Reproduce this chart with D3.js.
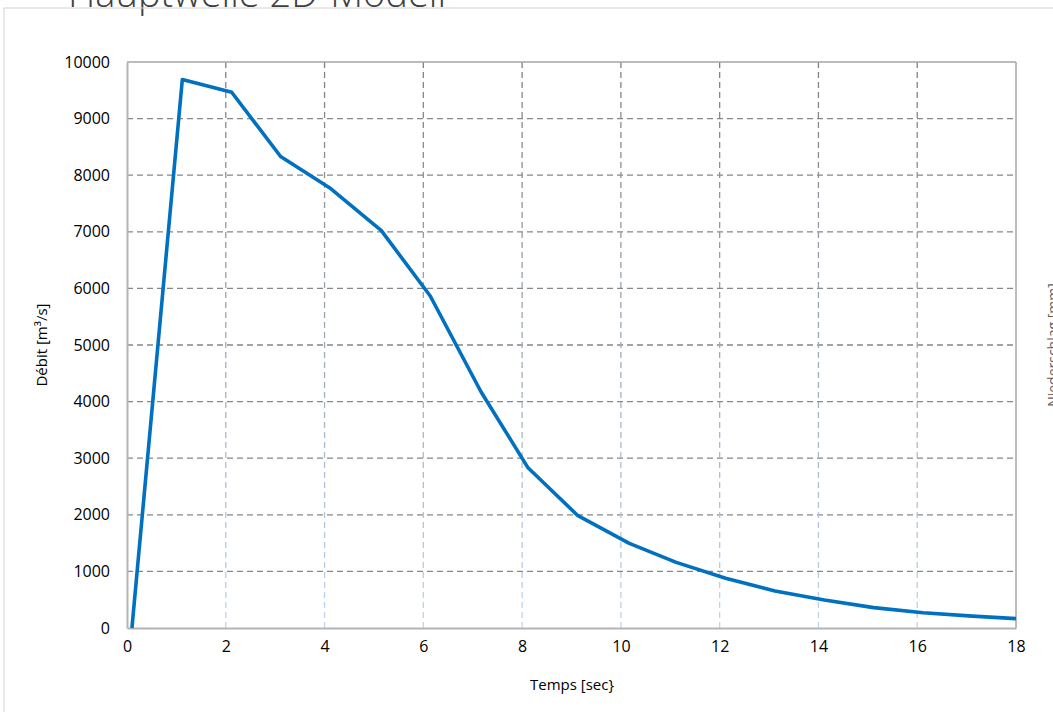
<!DOCTYPE html>
<html>
<head>
<meta charset="utf-8">
<script src="https://cdn.jsdelivr.net/npm/d3@7"></script>
<style>
  body { margin: 0; background: #fff; }
  svg text { font-family: "Open Sans", sans-serif; fill: #000; }
</style>
</head>
<body>
<svg id="chart" width="1053" height="712"></svg>
<script>
// hydrograph values
var temps = [0.1, 1.12, 2.12, 3.11, 4.1, 5.15, 6.14, 7.17, 8.12, 9.13, 10.17, 11.12, 12.12, 13.12, 14.12, 15.12, 16.12, 17.12, 18];
var debit = [0, 9690, 9465, 8330, 7780, 7020, 5866, 4170, 2830, 1984, 1496, 1160, 880, 655, 495, 360, 270, 210, 165];
var xTicks = [0, 2, 4, 6, 8, 10, 12, 14, 16, 18];
var yTicks = [0, 1000, 2000, 3000, 4000, 5000, 6000, 7000, 8000, 9000, 10000];

var svg = d3.select("#chart");
var pLeft = 127, pRight = 1016, pTop = 62, pBottom = 628;

var x = d3.scaleLinear().domain([0, 18]).range([pLeft, pRight]);
var y = d3.scaleLinear().domain([0, 10000]).range([pBottom, pTop]);

// gradient for the vertical grid (grey at top, pale blue at bottom)
var defs = svg.append("defs");
var grad = defs.append("linearGradient").attr("id", "vgrid")
    .attr("gradientUnits", "userSpaceOnUse")
    .attr("x1", 0).attr("y1", pTop).attr("x2", 0).attr("y2", pBottom);
grad.append("stop").attr("offset", "0%").attr("stop-color", "#808080");
grad.append("stop").attr("offset", "45%").attr("stop-color", "#9aa6b4");
grad.append("stop").attr("offset", "100%").attr("stop-color", "#bcd6f0");

// title of the sheet, only its lower edge shows above the frame
svg.append("text").attr("x", 68).attr("y", 7)
   .style("font-size", "38px").style("font-weight", "300").style("fill", "#404040")
   .text("Hauptwelle 2D-Modell");

// outer frame
svg.append("rect").attr("x", 4).attr("y", 8).attr("width", 1100).attr("height", 760)
   .attr("fill", "none").attr("stroke", "#d4d4d4").attr("stroke-width", 1);

// vertical text on the right edge, mostly off the page
svg.append("text").attr("transform", "translate(1058,345) rotate(-90)")
   .attr("text-anchor", "middle").style("font-size", "14px").style("fill", "#606060")
   .text("Niederschlag [mm]");

// horizontal grid
svg.append("g").selectAll("line").data(yTicks.filter(function(d) { return d > 0 && d < 10000; }))
   .enter().append("line")
   .attr("x1", pLeft).attr("x2", pRight)
   .attr("y1", function(d) { return y(d); }).attr("y2", function(d) { return y(d); })
   .attr("stroke", "#878787").attr("stroke-width", 1.3).attr("stroke-dasharray", "6,4");

// vertical grid
svg.append("g").selectAll("line").data(xTicks.filter(function(d) { return d > 0 && d < 18; }))
   .enter().append("line")
   .attr("x1", function(d) { return x(d); }).attr("x2", function(d) { return x(d); })
   .attr("y1", pTop).attr("y2", pBottom)
   .attr("stroke", "url(#vgrid)").attr("stroke-width", 1.3).attr("stroke-dasharray", "6,4");

// plot border
svg.append("line").attr("x1", pLeft).attr("x2", pRight).attr("y1", pTop).attr("y2", pTop)
   .attr("stroke", "#a6a6a6").attr("stroke-width", 1.5);
svg.append("line").attr("x1", pRight).attr("x2", pRight).attr("y1", pTop).attr("y2", pBottom)
   .attr("stroke", "#a6a6a6").attr("stroke-width", 1.5);

// axes
var xAxis = svg.append("g").attr("transform", "translate(0," + pBottom + ")")
   .call(d3.axisBottom(x).tickValues(xTicks).tickSize(0).tickPadding(13).tickFormat(d3.format("d")));
var yAxis = svg.append("g").attr("transform", "translate(" + pLeft + ",0)")
   .call(d3.axisLeft(y).tickValues(yTicks).tickSize(0).tickPadding(17).tickFormat(d3.format("d")));
[xAxis, yAxis].forEach(function(a) {
    a.select(".domain").attr("stroke", "#b3b3b3").attr("stroke-width", 2);
    a.selectAll("text").style("font-size", "16px").attr("fill", "#000");
});

// line
svg.append("path").datum(d3.zip(temps, debit))
   .attr("fill", "none").attr("stroke", "#0070c0").attr("stroke-width", 3.6)
   .attr("stroke-linejoin", "round")
   .attr("d", d3.line().x(function(d) { return x(d[0]); }).y(function(d) { return y(d[1]); }));

// axis titles
svg.append("text").attr("x", 572).attr("y", 690).attr("text-anchor", "middle")
   .style("font-size", "15px").text("Temps [sec}");
svg.append("text").attr("transform", "translate(47,345) rotate(-90)").attr("text-anchor", "middle")
   .style("font-size", "15px").text("Débit [m³/s]");
</script>
</body>
</html>
